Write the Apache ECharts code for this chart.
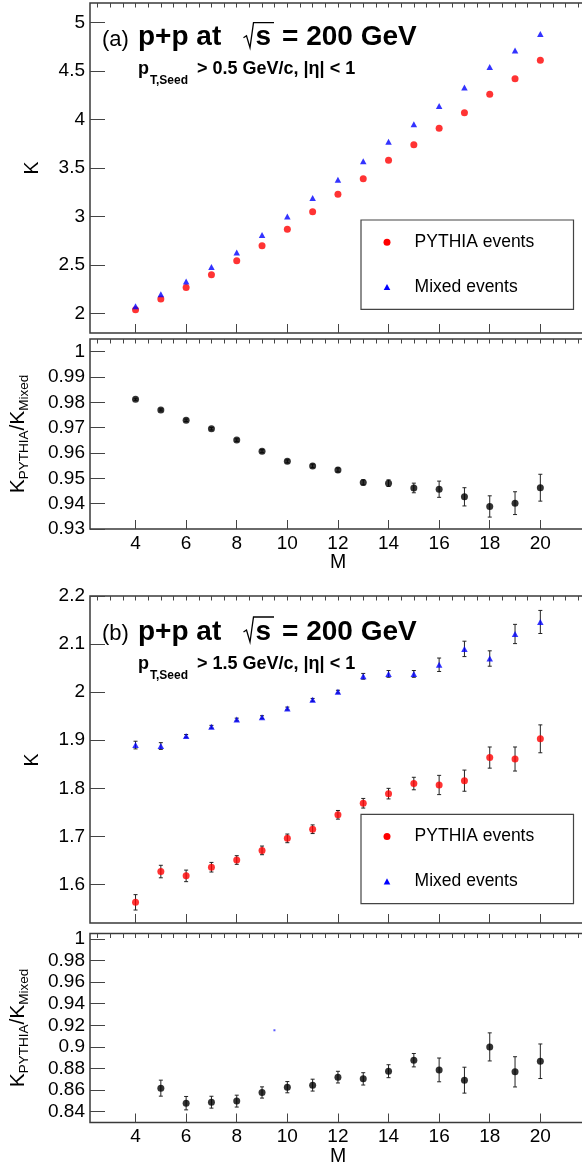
<!DOCTYPE html>
<html><head><meta charset="utf-8">
<script src="https://cdn.jsdelivr.net/npm/echarts@6/dist/echarts.min.js"></script>
<style>html,body{margin:0;padding:0;background:#fff;overflow:hidden;width:582px;height:1170px}#c{width:610px;height:1170px}</style>
</head><body><div id="c"></div>
<script>
const FONT = '"Liberation Sans", Arial, Helvetica, sans-serif';

// ---------------- data ----------------
const M = [4,5,6,7,8,9,10,11,12,13,14,15,16,17,18,19,20];
// panel (a): pT,Seed > 0.5 GeV/c
const K_A_PYTHIA = [2.04,2.15,2.27,2.40,2.545,2.70,2.87,3.05,3.23,3.39,3.58,3.74,3.91,4.07,4.26,4.42,4.61];
const K_A_MIXED  = [2.075,2.20,2.33,2.48,2.63,2.81,3.00,3.19,3.38,3.57,3.77,3.95,4.14,4.33,4.54,4.71,4.88];
const RATIO_A     = [0.9812,0.9770,0.9729,0.9696,0.9651,0.9607,0.9567,0.9549,0.9533,0.9484,0.9481,0.9462,0.9457,0.9427,0.9389,0.9402,0.9463];
const RATIO_A_ERR = [0.0004,0.0004,0.0005,0.0005,0.0005,0.0006,0.0006,0.0007,0.0008,0.0010,0.0013,0.0019,0.0032,0.0036,0.0042,0.0045,0.0053];
// panel (b): pT,Seed > 1.5 GeV/c
const K_B_PYTHIA     = [1.563,1.627,1.618,1.636,1.651,1.671,1.696,1.715,1.745,1.769,1.789,1.810,1.807,1.816,1.864,1.861,1.903];
const K_B_PYTHIA_ERR = [0.016,0.013,0.012,0.010,0.009,0.009,0.009,0.009,0.009,0.010,0.011,0.013,0.020,0.022,0.022,0.025,0.029];
const K_B_MIXED      = [1.890,1.888,1.909,1.928,1.943,1.948,1.966,1.984,2.001,2.033,2.038,2.038,2.057,2.090,2.070,2.121,2.146];
const K_B_MIXED_ERR  = [0.008,0.007,0.003,0.003,0.003,0.003,0.003,0.003,0.003,0.006,0.007,0.007,0.014,0.016,0.016,0.020,0.024];
const M_RATIO_B   = [5,6,7,8,9,10,11,12,13,14,15,16,17,18,19,20];
const RATIO_B     = [0.8618,0.8479,0.8488,0.8498,0.8578,0.8627,0.8646,0.8720,0.8704,0.8775,0.8877,0.8787,0.8692,0.9000,0.8769,0.8867];
const RATIO_B_ERR = [0.0074,0.0062,0.0055,0.0055,0.0052,0.0052,0.0055,0.0054,0.0057,0.0060,0.0062,0.011,0.012,0.013,0.014,0.016];
const STRAY_B = [[9.49, 0.9154]];

// ---------------- tick labels ----------------
const X_TICK_LABELS = [4,6,8,10,12,14,16,18,20];
const Y_TICKS_A  = [2,2.5,3,3.5,4,4.5,5];
const Y_TICKS_AR = [0.93,0.94,0.95,0.96,0.97,0.98,0.99,1];
const Y_TICKS_B  = [1.6,1.7,1.8,1.9,2,2.1,2.2];
const Y_TICKS_BR = [0.84,0.86,0.88,0.9,0.92,0.94,0.96,0.98,1];
const X_RANGE = [2.2, 22.2];

// ---------------- layout ----------------
const PANELS = [
  {top:3,     height:330, y:[1.8,5.2],    major:Y_TICKS_A,  minor:0.1,   xLabels:false},
  {top:339,   height:190, y:[0.93,1.005], major:Y_TICKS_AR, minor:0.002, xLabels:true},
  {top:596,   height:327, y:[1.52,2.2],   major:Y_TICKS_B,  minor:0.02,  xLabels:false},
  {top:933.5, height:189, y:[0.83,1.005], major:Y_TICKS_BR, minor:0.004, xLabels:true}
];
const fmt = v => String(+(+v).toFixed(4));
function steps(lo, hi, st){ const o=[]; const a=Math.ceil(lo/st-1e-6), b=Math.floor(hi/st+1e-6); for(let n=a;n<=b;n++) o.push(+(n*st).toFixed(6)); return o; }

const TICK = {color:'#444', width:1};
const LBL = {fontSize:19, fontFamily:FONT, color:'#000', formatter:fmt};
const grid=[], xAxis=[], yAxis=[];
PANELS.forEach((p,i)=>{
  grid.push({left:90, width:506, top:p.top, height:p.height, show:true, borderColor:'#3a3a3a', borderWidth:1.5, backgroundColor:'rgba(0,0,0,0)'});
  const base = {type:'value', gridIndex:i, splitLine:{show:false}, axisLine:{show:false}};
  xAxis.push(Object.assign({}, base, {min:X_RANGE[0], max:X_RANGE[1],
    axisTick:{show:true, inside:true, length:9, customValues:X_TICK_LABELS, lineStyle:TICK},
    axisLabel:Object.assign({show:p.xLabels, customValues:X_TICK_LABELS, margin:5}, LBL)}));
  xAxis.push(Object.assign({}, base, {min:X_RANGE[0], max:X_RANGE[1],
    axisTick:{show:true, inside:true, length:4.5, customValues:steps(2.5,22,0.5), lineStyle:TICK},
    axisLabel:{show:false}}));
  yAxis.push(Object.assign({}, base, {min:p.y[0], max:p.y[1],
    axisTick:{show:true, inside:true, length:15, customValues:p.major, lineStyle:TICK},
    axisLabel:Object.assign({show:true, customValues:p.major, margin:5}, LBL)}));
  yAxis.push(Object.assign({}, base, {min:p.y[0], max:p.y[1],
    axisTick:{show:true, inside:true, length:8, customValues:steps(p.y[0],p.y[1],p.minor), lineStyle:TICK},
    axisLabel:{show:false}}));
});

function errRender(params, api){
  const x=api.value(0), lo=api.value(1), hi=api.value(2);
  const a=api.coord([x,lo]), b=api.coord([x,hi]);
  const c=2, st={stroke:'#222', lineWidth:1};
  return {type:'group', children:[
    {type:'line', shape:{x1:a[0],y1:a[1],x2:b[0],y2:b[1]}, style:st},
    {type:'line', shape:{x1:a[0]-c,y1:a[1],x2:a[0]+c,y2:a[1]}, style:st},
    {type:'line', shape:{x1:b[0]-c,y1:b[1],x2:b[0]+c,y2:b[1]}, style:st}
  ]};
}
function pts(xs, ys){ return xs.map((m,k)=>[m, ys[k]]); }
function errs(xs, ys, es){ return xs.map((m,k)=>[m, ys[k]-es[k], ys[k]+es[k]]); }
function scat(gi, name, data, symbol, size, color){
  return {type:'scatter', name, xAxisIndex:2*gi, yAxisIndex:2*gi, data, symbol, symbolSize:size, itemStyle:{color}, z:4, silent:true};
}
function ebar(gi, data){
  return {type:'custom', xAxisIndex:2*gi, yAxisIndex:2*gi, data, renderItem:errRender, encode:{x:0, y:[1,2]}, z:2, silent:true};
}

const series = [
  scat(0,'PYTHIA events',pts(M,K_A_PYTHIA),'circle',7,'#ff0000'),
  scat(0,'Mixed events',pts(M,K_A_MIXED),'triangle',[6.5,6],'#0000ff'),
  ebar(1, errs(M,RATIO_A,RATIO_A_ERR)),
  scat(1,'ratio',pts(M,RATIO_A),'circle',7,'#000000'),
  ebar(2, errs(M,K_B_PYTHIA,K_B_PYTHIA_ERR)),
  ebar(2, errs(M,K_B_MIXED,K_B_MIXED_ERR)),
  scat(2,'PYTHIA events',pts(M,K_B_PYTHIA),'circle',7,'#ff0000'),
  scat(2,'Mixed events',pts(M,K_B_MIXED),'triangle',[6.5,6],'#0000ff'),
  ebar(3, errs(M_RATIO_B,RATIO_B,RATIO_B_ERR)),
  scat(3,'ratio',pts(M_RATIO_B,RATIO_B),'circle',7,'#000000'),
  scat(3,'stray',STRAY_B,'rect',2,'#3030ff')
];

// ---------------- text / decorations ----------------
const mctx = document.createElement('canvas').getContext('2d');
function tw(t, size, weight){ mctx.font = (weight||'normal')+' '+size+'px '+FONT; return mctx.measureText(t).width; }
const mid = (base, size) => base - 0.32*size;
function txt(t, x, y, size, weight, align, rot){
  return {type:'text', x, y, rotation:rot||0, silent:true, z:100,
    style:{text:t, fontSize:size, fontWeight:weight||'normal', fontFamily:FONT, fill:'#000',
      textAlign:align||'left', align:align||'left', textVerticalAlign:'middle', verticalAlign:'middle'}};
}
const G = [];
function panelTitle(label, sub, dy){
  const b = 46.7 + dy, sb = 75 + dy;
  G.push(txt(label, 102, mid(b,22), 22, 'normal'));
  G.push(txt('p+p at', 138, mid(b,28), 28, 'bold'));
  G.push({type:'polyline', silent:true, z:100, shape:{points:[[243.5,b-9],[246.5,b-11],[250,b+1],[253.5,b-24],[274,b-24]]}, style:{stroke:'#000', lineWidth:1.3, fill:null}});
  G.push(txt('s', 255.5, mid(b,28), 28, 'bold'));
  G.push(txt('= 200 GeV', 282, mid(b,28), 28, 'bold'));
  G.push(txt('p', 138, mid(sb,18), 18, 'bold'));
  G.push(txt('T,Seed', 150, mid(sb+10,12), 12, 'bold'));
  G.push(txt(sub, 197, mid(sb,18), 18, 'bold'));
}
panelTitle('(a)', '> 0.5 GeV/c, |\u03b7| < 1', 0);
panelTitle('(b)', '> 1.5 GeV/c, |\u03b7| < 1', 594.3);

function legendBox(dy){
  G.push({type:'rect', silent:true, z:90, shape:{x:361, y:220+dy, width:212.5, height:89.3}, style:{fill:'#fff', stroke:'#444', lineWidth:1.2}});
  const y1 = 242.3+dy, y2 = 287.3+dy;
  G.push({type:'circle', silent:true, z:95, shape:{cx:387, cy:y1, r:3.5}, style:{fill:'#ff0000'}});
  G.push({type:'polygon', silent:true, z:95, shape:{points:[[387,y2-3.3],[390.3,y2+2.8],[383.7,y2+2.8]]}, style:{fill:'#0000ff'}});
  G.push(txt('PYTHIA events', 414.6, y1, 17.5, 'normal'));
  G.push(txt('Mixed events', 414.6, y2, 17.5, 'normal'));
}
legendBox(0);
legendBox(594.3);

// y titles
G.push(txt('K', 32.5, 168, 19.5, 'normal', 'center', Math.PI/2));
G.push(txt('K', 32.5, 760, 19.5, 'normal', 'center', Math.PI/2));
function ratioTitle(xc, yc){
  const pcs = [{t:'K',s:21,d:0},{t:'PYTHIA',s:13.5,d:5.5},{t:'/',s:21,d:0},{t:'K',s:21,d:0},{t:'Mixed',s:13.5,d:5.5}];
  const L = pcs.reduce((a,p)=>a+tw(p.t,p.s),0);
  let y = yc + L/2;
  pcs.forEach(p=>{ G.push(txt(p.t, xc+p.d, y, p.s, 'normal', 'left', Math.PI/2)); y -= tw(p.t,p.s); });
}
ratioTitle(18.5, 434);
ratioTitle(18.5, 1028);
// x titles
G.push(txt('M', 338, 563, 19.5, 'normal', 'center'));
G.push(txt('M', 338, 1157, 19.5, 'normal', 'center'));

const chart = echarts.init(document.getElementById('c'), null, {renderer:'canvas'});
chart.setOption({
  animation:false,
  backgroundColor:'#fff',
  grid, xAxis, yAxis, series,
  graphic:{elements:G}
});
</script></body></html>
